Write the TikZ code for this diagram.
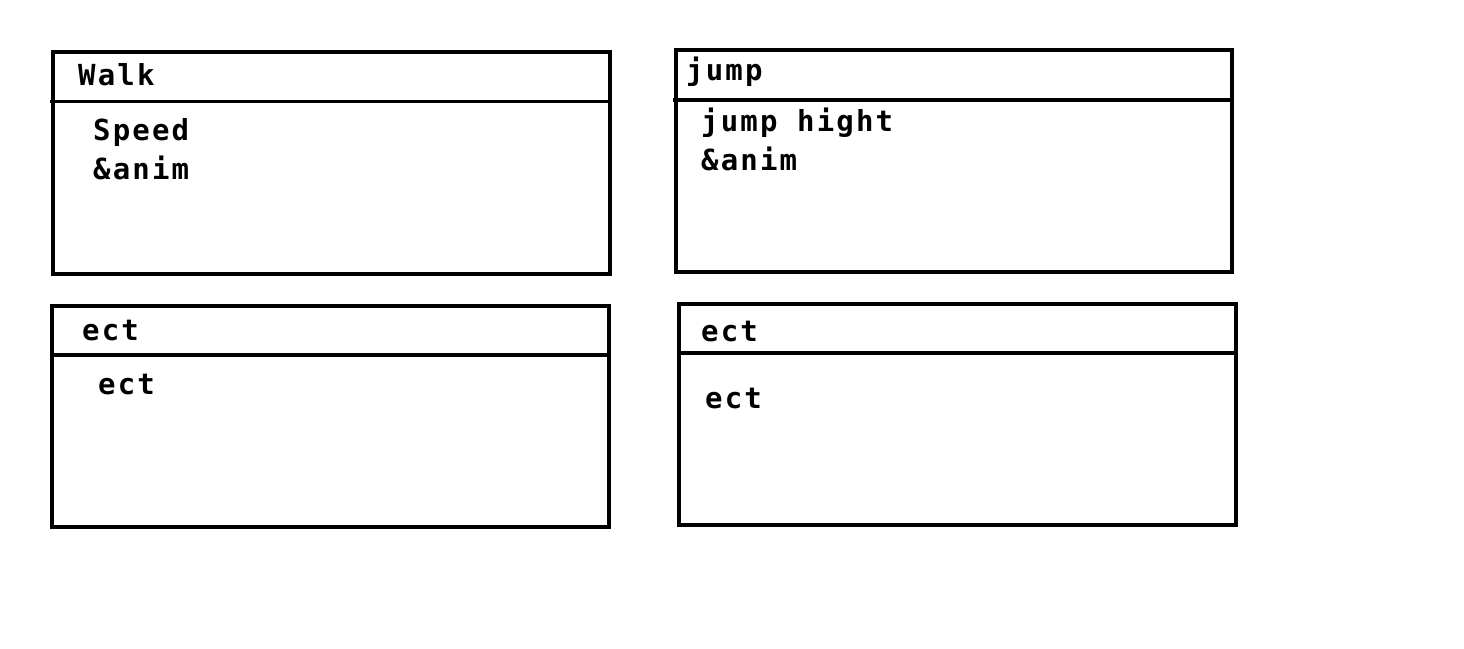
\documentclass[tikz,border=0pt]{standalone}
\usepackage{fontspec}
\setmonofont[LetterSpace=7.5]{DejaVu Sans Mono}
\begin{document}
\begin{tikzpicture}[x=1pt,y=-1pt,
  box/.style={draw=black,line width=3.5pt,inner sep=0pt,outer sep=0pt,anchor=north west},
  divline/.style={line width=3.5pt},
  lbl/.style={anchor=base west,inner sep=0pt,font=\fontsize{29}{34}\selectfont\ttfamily\bfseries}]
\useasboundingbox (0,0) rectangle (1464,648);
% boxes
\node[box,minimum width=557pt,minimum height=222pt] (b1) at (53,52) {};
\node[box,minimum width=556pt,minimum height=222pt] (b2) at (676,50) {};
\node[box,minimum width=557pt,minimum height=221pt] (b3) at (52,306) {};
\node[box,minimum width=557pt,minimum height=221pt] (b4) at (679,304) {};
% dividers
\coordinate (d1l) at (50,101.5); \coordinate (d1r) at (b1.east |- d1l);
\coordinate (d2l) at (673,100);  \coordinate (d2r) at (b2.east |- d2l);
\coordinate (d3l) at (52,355);   \coordinate (d3r) at (b3.east |- d3l);
\coordinate (d4l) at (679,353);  \coordinate (d4r) at (b4.east |- d4l);
\draw[divline] (d1l) -- (d1r);
\draw[divline] (d2l) -- (d2r);
\draw[divline] (d3l) -- (d3r);
\draw[divline] (d4l) -- (d4r);
% texts
\node[lbl] (t1) at (78,85) {Walk};
\node[lbl] (t1a) at (93,140) {Speed};
\node[lbl] (t1b) at (93,179) {\&anim};
\node[lbl] (t2) at (686,80) {jump};
\node[lbl] (t2a) at (701,131) {jump hight};
\node[lbl] (t2b) at (701,170) {\&anim};
\node[lbl] (t3) at (82,340) {ect};
\node[lbl] (t3a) at (98,394) {ect};
\node[lbl] (t4) at (701,341) {ect};
\node[lbl] (t4a) at (705,408) {ect};
\end{tikzpicture}
\end{document}
